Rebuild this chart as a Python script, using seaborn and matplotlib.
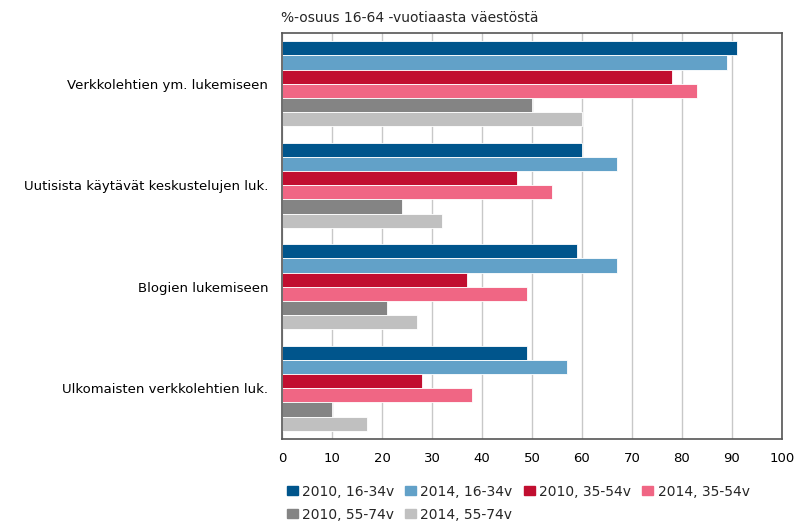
import pandas as pd
import matplotlib.pyplot as plt
import seaborn as sns

categories = ["Verkkolehtien ym. lukemiseen",
              "Uutisista käytävät keskustelujen luk.",
              "Blogien lukemiseen",
              "Ulkomaisten verkkolehtien luk."]
series = ["2010, 16-34v", "2014, 16-34v", "2010, 35-54v",
          "2014, 35-54v", "2010, 55-74v", "2014, 55-74v"]
values = {
    "2010, 16-34v": [91, 60, 59, 49],
    "2014, 16-34v": [89, 67, 67, 57],
    "2010, 35-54v": [78, 47, 37, 28],
    "2014, 35-54v": [83, 54, 49, 38],
    "2010, 55-74v": [50, 24, 21, 10],
    "2014, 55-74v": [60, 32, 27, 17],
}
colors = ["#00558c", "#62a1c8", "#c10e30", "#f06684", "#848484", "#c0c0c0"]

rows = []
for s in series:
    for c, v in zip(categories, values[s]):
        rows.append({"cat": c, "series": s, "val": v})
df = pd.DataFrame(rows)

sns.set_style("white")
plt.rcParams['font.family'] = ['DejaVu Sans']

fig = plt.figure(figsize=(8.09, 5.23), dpi=100)
ax = fig.add_axes([282/809, 1 - 439/523, 500/809, 406/523])

sns.barplot(data=df, y="cat", x="val", hue="series", hue_order=series,
            order=categories, palette=colors, saturation=1, width=0.84,
            orient="h", edgecolor="white", linewidth=0.6, ax=ax,
            legend=False, zorder=3)

ax.set_xlim(0, 100)
ax.set_ylim(3.5, -0.5)
ax.set_xticks(range(0, 101, 10))
ax.grid(axis="x", color="#c8c8c8", linewidth=1, zorder=0)
ax.set_axisbelow(True)
ax.set_xlabel("")
ax.set_ylabel("")
ax.tick_params(axis="both", length=0, colors="black")
ax.tick_params(axis="x", pad=9, labelsize=9.5)
ax.tick_params(axis="y", pad=10, labelsize=9.5)
for sp in ax.spines.values():
    sp.set_visible(True)
    sp.set_color("#555555")
    sp.set_linewidth(1.2)
    sp.set_zorder(5)

fig.text(281/809, 1 - 18/523, "%-osuus 16-64 -vuotiaasta väestöstä",
         fontsize=10, va="center", ha="left")

# row-major legend order for 4 columns
order = [0, 4, 1, 5, 2, 3]
handles = [plt.Rectangle((0, 0), 1, 1, color=colors[i]) for i in order]
labels = [series[i] for i in order]
fig.legend(handles, labels, loc="upper left", bbox_to_anchor=(281/809, 1 - 479/523),
           ncol=4, frameon=False, fontsize=10, handlelength=0.8, handleheight=0.6,
           handletextpad=0.3, columnspacing=0.8, labelspacing=0.65, borderaxespad=0)

fig.savefig("out.png", dpi=100)
